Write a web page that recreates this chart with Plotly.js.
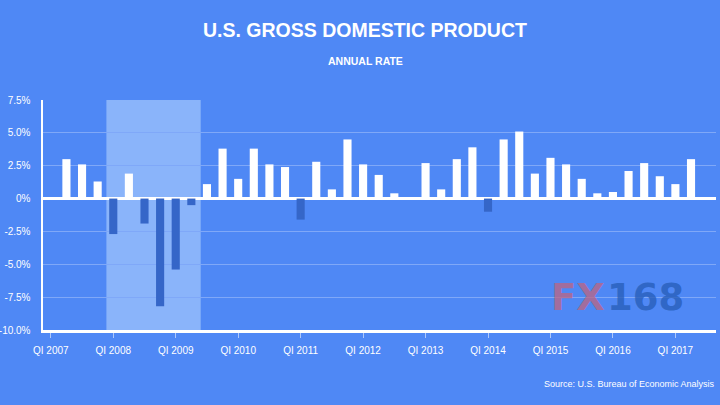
<!DOCTYPE html>
<html>
<head>
<meta charset="utf-8">
<script src="https://cdn.plot.ly/plotly-3.0.1.min.js"></script>
<style>
html,body{margin:0;padding:0;background:#4F88F5;}
#chart{width:720px;height:405px;}
</style>
</head>
<body>
<div id="chart"></div>
<script>
// Quarters Q1 2007 .. Q2 2017
const quarters = [
  "Q1 2007","Q2 2007","Q3 2007","Q4 2007",
  "Q1 2008","Q2 2008","Q3 2008","Q4 2008",
  "Q1 2009","Q2 2009","Q3 2009","Q4 2009",
  "Q1 2010","Q2 2010","Q3 2010","Q4 2010",
  "Q1 2011","Q2 2011","Q3 2011","Q4 2011",
  "Q1 2012","Q2 2012","Q3 2012","Q4 2012",
  "Q1 2013","Q2 2013","Q3 2013","Q4 2013",
  "Q1 2014","Q2 2014","Q3 2014","Q4 2014",
  "Q1 2015","Q2 2015","Q3 2015","Q4 2015",
  "Q1 2016","Q2 2016","Q3 2016","Q4 2016",
  "Q1 2017","Q2 2017"
];
// GDP growth, annual rate (%)
const gdpGrowth = [
  0.1, 3.0, 2.6, 1.3,
  -2.7, 1.9, -1.9, -8.2,
  -5.4, -0.5, 1.1, 3.8,
  1.5, 3.8, 2.6, 2.4,
  -1.6, 2.8, 0.7, 4.5,
  2.6, 1.8, 0.4, 0.1,
  2.7, 0.7, 3.0, 3.9,
  -1.0, 4.5, 5.1, 1.9,
  3.1, 2.6, 1.5, 0.4,
  0.5, 2.1, 2.7, 1.7,
  1.1, 3.0
];
const xTickVals = ["Q1 2007","Q1 2008","Q1 2009","Q1 2010","Q1 2011","Q1 2012","Q1 2013","Q1 2014","Q1 2015","Q1 2016","Q1 2017"];
const xTickText = ["QI 2007","QI 2008","QI 2009","QI 2010","QI 2011","QI 2012","QI 2013","QI 2014","QI 2015","QI 2016","QI 2017"];
const yTickVals = [7.5, 5, 2.5, 0, -2.5, -5, -7.5, -10];
const yTickText = ["7.5%","5.0%","2.5%","0%","-2.5%","-5.0%","-7.5%","-10.0%"];
const recessionStart = "Q1 2008";
const recessionEnd = "Q2 2009";

const BG = "#4F88F5";
const barColors = gdpGrowth.map(v => v < 0 ? "#3566C8" : "#FFFFFF");
const iStart = quarters.indexOf(recessionStart);
const iEnd = quarters.indexOf(recessionEnd);

const sans = "'Liberation Sans', Arial, sans-serif";

const trace = {
  type: "bar",
  x: quarters,
  y: gdpGrowth,
  marker: {color: barColors, line: {width: 0}},
  hoverinfo: "x+y"
};

const layout = {
  width: 720, height: 405,
  paper_bgcolor: BG, plot_bgcolor: BG,
  margin: {l: 43, r: 4, t: 100, b: 75},
  showlegend: false,
  bargap: 0.48,
  font: {family: sans, color: "#FFFFFF", size: 10},
  xaxis: {
    type: "category",
    range: [-0.5, 42.6],
    tickvals: xTickVals, ticktext: xTickText,
    ticks: "outside", ticklen: 5, tickwidth: 1, tickcolor: "rgba(255,255,255,0.55)",
    ticklabelstandoff: 4,
    showline: true, linecolor: "#FFFFFF", linewidth: 2.5,
    showgrid: false, zeroline: false,
    tickfont: {family: sans, size: 10, color: "#FFFFFF"}
  },
  yaxis: {
    range: [-10, 7.5],
    tickvals: yTickVals, ticktext: yTickText,
    ticks: "outside", ticklen: 8, tickcolor: "rgba(0,0,0,0)",
    showline: true, linecolor: "#FFFFFF", linewidth: 2.5,
    showgrid: true, gridcolor: "#7FA8F8", gridwidth: 1,
    zeroline: true, zerolinecolor: "#FFFFFF", zerolinewidth: 2.5,
    tickfont: {family: sans, size: 10, color: "#FFFFFF"}
  },
  shapes: [{
    type: "rect", layer: "below",
    xref: "x", yref: "paper",
    x0: iStart - 0.44, x1: iEnd + 0.6, y0: 0, y1: 1,
    fillcolor: "#8AB4FA", line: {width: 0}
  }],
  annotations: [
    {text: "<b>U.S. GROSS DOMESTIC PRODUCT</b>", xref: "paper", yref: "paper",
     x: (365 - 43) / 673, y: (330 - 30) / 230, xanchor: "center", yanchor: "middle",
     showarrow: false, font: {family: sans, size: 19.5, color: "#FFFFFF"}},
    {text: "<b>ANNUAL RATE</b>", xref: "paper", yref: "paper",
     x: (365 - 43) / 673, y: (330 - 61) / 230, xanchor: "center", yanchor: "middle",
     showarrow: false, font: {family: sans, size: 10.5, color: "#FFFFFF"}},
    {text: "Source: U.S. Bureau of Economic Analysis", xref: "paper", yref: "paper",
     x: (717 - 43) / 673, y: (330 - 384) / 230, xanchor: "right", yanchor: "middle",
     showarrow: false, font: {family: sans, size: 9, color: "#FFFFFF"}},
    {text: "<b>FX</b>", xref: "paper", yref: "paper",
     x: (607 - 43) / 673, y: (330 - 297) / 230, xanchor: "right", yanchor: "middle",
     showarrow: false, font: {family: "'DejaVu Sans', sans-serif", size: 37, color: "rgba(190,100,130,0.75)"}},
    {text: "<b>168</b>", xref: "paper", yref: "paper",
     x: (605 - 43) / 673, y: (330 - 297) / 230, xanchor: "left", yanchor: "middle",
     showarrow: false, font: {family: "'DejaVu Sans', sans-serif", size: 37, color: "rgba(40,95,185,0.8)"}}
  ]
};

Plotly.newPlot("chart", [trace], layout, {staticPlot: true, displayModeBar: false});
</script>
</body>
</html>
